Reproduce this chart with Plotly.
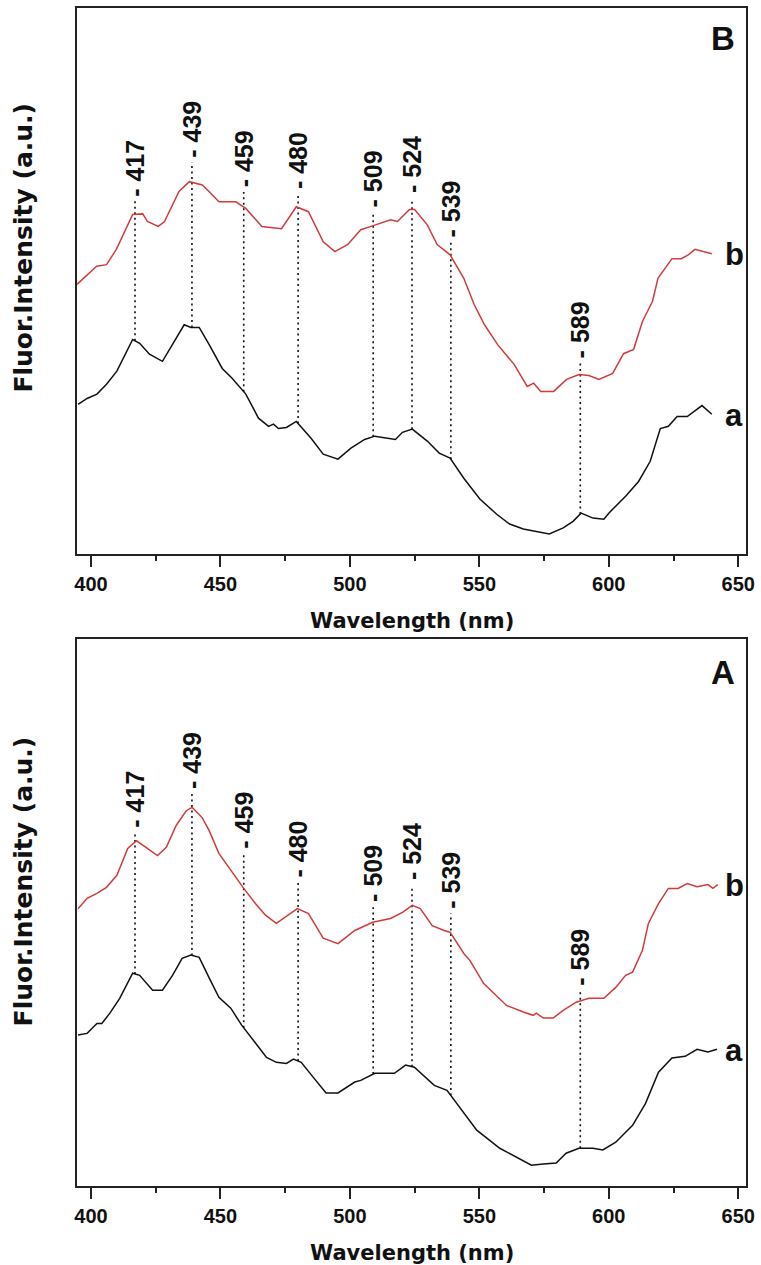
import numpy as np
import plotly.graph_objects as go

# ---------------- spectra, panel B ----------------
wl_B_b = [394.6, 402.2, 406.0, 409.8, 416.1, 420.0, 421.8, 426.0, 428.4, 434.0, 438.0, 443.0,
          445.6, 449.4, 455.9, 459.8, 466.0, 473.6, 479.3, 484.0, 489.7, 494.2, 499.2, 504.2,
          508.8, 515.7, 518.4, 523.0, 525.0, 529.9, 533.7, 538.7, 544.0, 548.0, 552.0, 557.0,
          563.5, 568.5, 571.0, 573.7, 578.7, 583.7, 588.5, 592.3, 596.2, 601.5, 605.7, 609.6,
          613.0, 616.9, 619.0, 624.4, 628.0, 630.7, 633.3, 635.2, 639.8]
I_B_b = [49.4, 52.7, 53.0, 55.8, 62.2, 62.3, 60.9, 60.0, 60.9, 66.4, 68.2, 67.6,
         66.4, 64.5, 64.5, 63.3, 60.0, 59.6, 63.6, 62.7, 57.2, 55.4, 56.7, 59.4,
         60.1, 61.2, 60.9, 63.1, 63.1, 60.3, 56.7, 54.8, 50.5, 45.7, 42.0, 38.4,
         34.7, 30.7, 31.3, 29.8, 29.8, 32.0, 32.9, 32.7, 32.0, 33.1, 36.7, 37.5,
         42.6, 46.3, 50.5, 54.1, 54.1, 54.8, 55.8, 55.6, 55.0]

wl_B_a = [395.0, 398.5, 402.3, 406.0, 410.0, 416.1, 418.8, 422.6, 427.6, 431.5, 436.0, 438.6,
          441.8, 445.6, 450.7, 454.5, 459.8, 464.7, 468.6, 470.5, 472.4, 475.5, 479.3, 485.0,
          489.7, 495.4, 500.4, 505.7, 509.6, 517.6, 520.3, 524.1, 529.9, 534.5, 538.7, 544.0,
          550.2, 556.7, 561.7, 567.0, 572.0, 577.0, 582.4, 586.2, 589.3, 593.9, 598.1, 600.0,
          606.5, 611.5, 616.0, 619.9, 623.0, 626.4, 630.3, 636.0, 639.8]
I_B_a = [27.4, 28.5, 29.3, 31.1, 33.5, 39.3, 38.6, 36.6, 35.3, 38.4, 42.0, 41.5,
         41.5, 38.4, 34.0, 32.2, 29.3, 24.9, 23.4, 23.8, 23.0, 23.2, 24.3, 21.2,
         18.3, 17.4, 19.4, 21.0, 21.6, 21.0, 22.3, 22.9, 20.7, 18.5, 17.6, 13.9,
         10.1, 7.3, 5.5, 4.6, 4.2, 3.7, 4.8, 6.0, 7.5, 6.6, 6.4, 7.5,
         10.6, 13.3, 17.0, 23.0, 23.4, 25.2, 25.2, 27.2, 25.6]

# ---------------- spectra, panel A ----------------
wl_A_b = [395.0, 398.5, 402.3, 406.0, 410.0, 414.2, 417.6, 421.4, 425.7, 429.1, 432.9, 436.8,
          439.1, 443.0, 445.6, 449.4, 454.5, 459.0, 463.6, 467.4, 471.6, 476.2, 479.7, 484.0,
          489.7, 495.4, 501.9, 508.8, 515.7, 520.3, 524.1, 527.2, 531.8, 536.4, 538.7, 544.0,
          546.4, 551.7, 560.5, 567.0, 570.8, 572.0, 574.7, 578.5, 582.4, 587.4, 592.3, 598.1,
          602.7, 606.5, 609.2, 613.0, 615.3, 619.2, 623.0, 626.8, 630.3, 634.1, 638.3, 640.2,
          642.1]
I_A_b = [50.7, 52.6, 53.5, 54.6, 56.8, 61.7, 63.1, 61.9, 60.4, 61.9, 65.9, 68.6,
         69.2, 67.3, 65.0, 60.8, 57.3, 54.4, 51.6, 49.5, 48.0, 49.5, 50.7, 49.8,
         45.3, 44.3, 46.7, 48.2, 48.9, 50.0, 51.3, 50.7, 47.6, 46.7, 46.4, 42.5,
         41.2, 37.0, 33.0, 31.8, 31.2, 31.6, 30.7, 30.7, 32.1, 33.6, 34.3, 34.3,
         36.3, 38.5, 39.1, 43.1, 48.0, 51.6, 54.4, 54.4, 55.3, 54.7, 55.1, 54.4,
         55.1]

wl_A_a = [395.0, 398.5, 402.3, 404.2, 407.3, 411.1, 416.1, 418.8, 423.8, 427.6, 431.5, 435.2,
          438.6, 441.8, 445.6, 449.4, 454.0, 458.2, 463.6, 467.8, 471.6, 475.5, 478.2, 481.2,
          485.8, 490.8, 495.4, 501.9, 504.2, 509.6, 517.2, 521.5, 524.9, 532.6, 537.5, 544.0,
          549.0, 557.9, 564.4, 570.1, 574.7, 579.7, 583.5, 588.5, 593.9, 597.7, 602.7, 609.2,
          614.2, 619.2, 624.4, 629.5, 634.1, 638.3, 641.8]
I_A_a = [27.6, 27.9, 29.7, 29.7, 31.6, 34.3, 38.9, 38.5, 35.8, 35.8, 38.5, 41.6,
         42.2, 41.8, 38.1, 34.5, 32.5, 29.4, 26.1, 23.5, 22.6, 22.4, 23.2, 22.6,
         19.9, 17.0, 17.0, 19.0, 19.3, 20.6, 20.6, 22.1, 21.7, 18.4, 17.5, 13.3,
         10.2, 6.9, 5.3, 3.8, 4.0, 4.2, 6.0, 6.9, 6.9, 6.6, 8.0, 11.1,
         15.1, 20.8, 23.4, 23.7, 25.0, 24.5, 25.0]

# marked emission bands (nm)
peaks = [417, 439, 459, 480, 509, 524, 539, 589]
x_ticks = [400, 450, 500, 550, 600, 650]

# ---------------- styling ----------------
RED = "#d23b3b"
INK = "#111111"
NUM_FONT = "Liberation Sans"
TITLE_FONT = "DejaVu Sans"

# gap (px) between each band label and curve b, per panel
label_gap = {
    "B": [18, 25, 20, 18, 18, 16, 19, 16],
    "A": [15, 19, 40, 31, 20, 25, 25, 15],
}

panels = [
    # name, x axis, y axis, curve a, curve b, px per unit, paper y of titles / letter
    ("B", "x", "y", (wl_B_a, I_B_a), (wl_B_b, I_B_b), 5.47, 0.797, 0.4797, 0.974),
    ("A", "x2", "y2", (wl_A_a, I_A_a), (wl_A_b, I_A_b), 5.48, 0.259, -0.0568, 0.4356),
]

fig = go.Figure()
annotations = []

for name, xa, ya, (wa, ia), (wb, ib), ppu, ytitle_y, xtitle_y, letter_y in panels:
    # dotted guides from each band label down to curve a
    for p, gap in zip(peaks, label_gap[name]):
        a_val = float(np.interp(p, wa, ia))
        b_val = float(np.interp(p, wb, ib))
        fig.add_trace(go.Scatter(
            x=[p, p], y=[a_val, b_val + (gap - 5) / ppu], mode="lines",
            line=dict(color=INK, width=1.6, dash="2px,3.5px"),
            xaxis=xa, yaxis=ya, hoverinfo="skip", showlegend=False))
        annotations.append(dict(
            x=p, y=b_val, xref=xa, yref=ya, text=f"- {p}", textangle=-90,
            showarrow=False, xanchor="center", yanchor="bottom", yshift=gap - 2,
            font=dict(family=NUM_FONT, size=25, color=INK, weight="bold")))

    fig.add_trace(go.Scatter(x=wa, y=ia, mode="lines", line=dict(color=INK, width=1.5),
                             xaxis=xa, yaxis=ya, showlegend=False))
    fig.add_trace(go.Scatter(x=wb, y=ib, mode="lines", line=dict(color=RED, width=1.5),
                             xaxis=xa, yaxis=ya, showlegend=False))

    # curve tags
    for tag, w, i in (("a", wa, ia), ("b", wb, ib)):
        annotations.append(dict(
            x=648.5, y=i[-1], xref=xa, yref=ya, text=tag, showarrow=False,
            xanchor="center", yanchor="middle", yshift=-1,
            font=dict(family=NUM_FONT, size=31, color=INK, weight="bold")))

    # panel letter
    annotations.append(dict(
        x=0.966, y=letter_y, xref="paper", yref="paper", text=name, showarrow=False,
        xanchor="center", yanchor="middle",
        font=dict(family=NUM_FONT, size=33, color=INK, weight="bold")))

    # axis titles
    annotations.append(dict(
        x=-0.08, y=ytitle_y, xref="paper", yref="paper", text="Fluor.Intensity (a.u.)",
        textangle=-90, showarrow=False, xanchor="center", yanchor="middle",
        font=dict(family=TITLE_FONT, size=25, color=INK, weight="bold")))
    annotations.append(dict(
        x=0.5, y=xtitle_y, xref="paper", yref="paper", text="Wavelength (nm)",
        showarrow=False, xanchor="center", yanchor="middle",
        font=dict(family=TITLE_FONT, size=21, color=INK, weight="bold")))

xaxis_style = dict(
    range=[394.6, 653], tickmode="array", tickvals=x_ticks,
    ticks="outside", ticklen=11, tickwidth=2, tickcolor="#222",
    minor=dict(dtick=25, tick0=400, ticks="outside", ticklen=5, tickwidth=2, tickcolor="#222"),
    showline=True, linewidth=2, linecolor="#222", mirror=True,
    showgrid=False, zeroline=False,
    tickfont=dict(family=NUM_FONT, size=20, color=INK, weight="bold"),
)
yaxis_style = dict(
    range=[0, 100], showticklabels=False, ticks="", showgrid=False, zeroline=False,
    showline=True, linewidth=2, linecolor="#222", mirror=True,
)

fig.update_layout(
    width=761, height=1265,
    margin=dict(l=77, r=10, t=6, b=79),
    paper_bgcolor="white", plot_bgcolor="white",
    xaxis=dict(**xaxis_style, anchor="y"),
    yaxis=dict(**yaxis_style, domain=[0.5364, 1.0], anchor="x"),
    xaxis2=dict(**xaxis_style, anchor="y2"),
    yaxis2=dict(**yaxis_style, domain=[0.0, 0.4644], anchor="x2"),
    annotations=annotations,
    showlegend=False,
)

fig.write_html("out.html")
